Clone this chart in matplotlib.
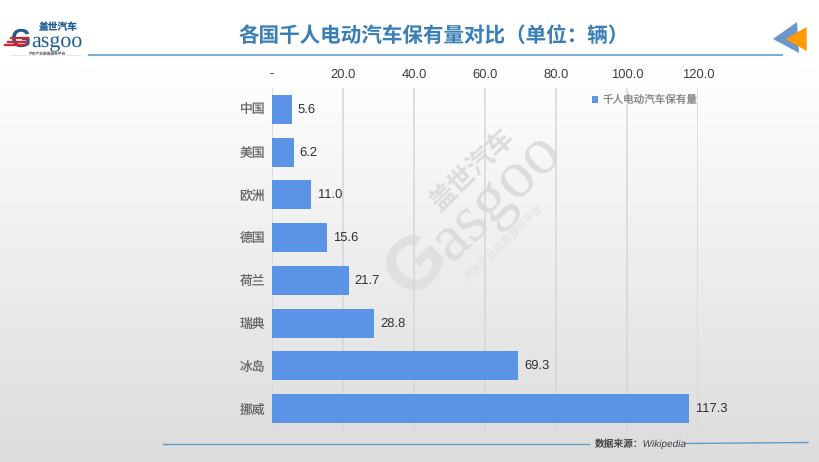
import matplotlib
matplotlib.use("Agg")
import matplotlib.pyplot as plt
from matplotlib.patches import Polygon
from matplotlib.lines import Line2D
import numpy as np

plt.rcParams['font.family'] = ['Liberation Sans', 'Noto Sans CJK SC', 'DejaVu Sans']
plt.rcParams['text.hinting'] = 'no_hinting'
plt.rcParams['text.hinting_factor'] = 1

countries = ['中国', '美国', '欧洲', '德国', '荷兰', '瑞典', '冰岛', '挪威']
values = [5.6, 6.2, 11.0, 15.6, 21.7, 28.8, 69.3, 117.3]
ticks = [0, 20, 40, 60, 80, 100, 120]
tick_labels = ['-', '20.0', '40.0', '60.0', '80.0', '100.0', '120.0']
series_name = '千人电动汽车保有量'

W, H = 820, 462
fig = plt.figure(figsize=(W / 100, H / 100), dpi=100)


def fx(x):
    return x / W


def fy(y):
    return 1 - y / H


# background, white header then fading to grey
bg = fig.add_axes([0, 0, 1, 1], zorder=0)
shade = np.ones((H, 1))
shade[55:, 0] = np.linspace(1.0, 0.86, H - 55)
bg.imshow(shade, cmap='gray', vmin=0, vmax=1, aspect='auto')
bg.axis('off')

# watermark
fig.text(fx(497), fy(197), 'asgoo', family='Liberation Serif', fontsize=48, color='#dcdcdc',
         rotation=44, ha='center', va='center', rotation_mode='anchor', zorder=1)
fig.text(fx(418), fy(265), 'G', family='Liberation Sans', fontweight='bold', fontsize=54, color='#e0e0e0',
         rotation=44, ha='center', va='center', rotation_mode='anchor', zorder=1)
fig.text(fx(473), fy(170), '盖世汽车', fontsize=19, color='#dcdcdc', fontweight='bold',
         rotation=44, ha='center', va='center', rotation_mode='anchor', zorder=1)
fig.text(fx(505), fy(243), '汽车产业信息服务平台', fontsize=7.5, color='#e4e4e4',
         rotation=44, ha='center', va='center', rotation_mode='anchor', zorder=1)

# chart
ax = fig.add_axes([fx(272), fy(430), fx(698.5 - 272), (430 - 88) / H], zorder=2)
ax.patch.set_alpha(0)
y = np.arange(len(countries))
ax.barh(y, values, height=0.68, color='#5b94e6', zorder=3, label=series_name)
ax.set_xlim(0, 120)
ax.set_ylim(len(countries) - 0.5, -0.5)
ax.set_yticks(y, countries)
ax.set_xticks(ticks, tick_labels)
ax.xaxis.tick_top()
ax.tick_params(axis='x', length=0, labelcolor='#404040', labelsize=9.5, pad=5)
ax.tick_params(axis='y', length=0, labelcolor='#666666', labelsize=9.2, pad=5)
ax.grid(axis='x', color='#d6d6d6', lw=1.1, zorder=1)
ax.set_axisbelow(True)
for s in ax.spines.values():
    s.set_visible(False)
for i, v in enumerate(values):
    ax.text(v + 1.6, i, f'{v:.1f}', va='center', ha='left', fontsize=9.1, color='#333333', zorder=4)
ax.legend(loc='upper right', bbox_to_anchor=(1.0, 0.982), frameon=False, fontsize=7.6,
          labelcolor='#808080', handlelength=0.6, handleheight=0.6, handletextpad=0.4,
          borderaxespad=0, borderpad=0.1)

# title and header decoration
fig.text(fx(434), fy(36), '各国千人电动汽车保有量对比（单位：辆）', fontsize=14.8, fontweight='bold',
         color='#3a7fb5', ha='center', va='center', zorder=5)
fig.add_artist(Line2D([fx(89), fx(782)], [fy(55), fy(55)], color='#7fadd3', lw=1.5, zorder=5))
fig.add_artist(Line2D([fx(163), fx(589)], [fy(444), fy(444)], color='#5f9bc8', lw=1.0, zorder=5))
fig.add_artist(Line2D([fx(685), fx(808)], [fy(443.5), fy(442.5)], color='#5f9bc8', lw=1.0, zorder=5))
fig.text(fx(640.5), fy(444), '数据来源：Wikipedia', fontsize=7.0, style='italic', color='#404040',
         ha='center', va='center', zorder=6)

# arrow marks, top right
fig.add_artist(Polygon([(fx(773), fy(39)), (fx(797), fy(22)), (fx(799), fy(53))], closed=True,
                       transform=fig.transFigure, color='#6a97cc', lw=0, zorder=5))
fig.add_artist(Polygon([(fx(785.5), fy(39)), (fx(806.7), fy(27)), (fx(806.7), fy(51))], closed=True,
                       transform=fig.transFigure, color='#ff9a00', lw=0, zorder=6))

# logo
fig.text(fx(57), fy(47), 'asgoo', family='Liberation Serif', fontsize=16, color='#1f5e93',
         ha='center', va='baseline', zorder=5)
fig.text(fx(21), fy(47), 'G', family='Liberation Sans', fontweight='bold', fontsize=19, color='#1f5e93',
         ha='center', va='baseline', zorder=5)
fig.text(fx(58.5), fy(27.5), '盖世汽车', fontsize=7, fontweight='bold', color='#1f5e93',
         ha='center', va='center', zorder=5)
fig.text(fx(47), fy(54.5), '汽车产业信息服务平台', fontsize=2.7, color='#888888',
         ha='center', va='center', zorder=5)
for yy, x0, x1 in [(38, 11, 28), (41.5, 8, 27), (45, 5, 25)]:
    fig.add_artist(Line2D([fx(x0), fx(x1)], [fy(yy), fy(yy)], color='#d8232a', lw=1.6, zorder=6))
for x0, x1 in [(10, 27), (67, 81)]:
    fig.add_artist(Line2D([fx(x0), fx(x1)], [fy(55), fy(55)], color='#e2e2e2', lw=0.6, zorder=5))

fig.savefig('out.png', dpi=100)
